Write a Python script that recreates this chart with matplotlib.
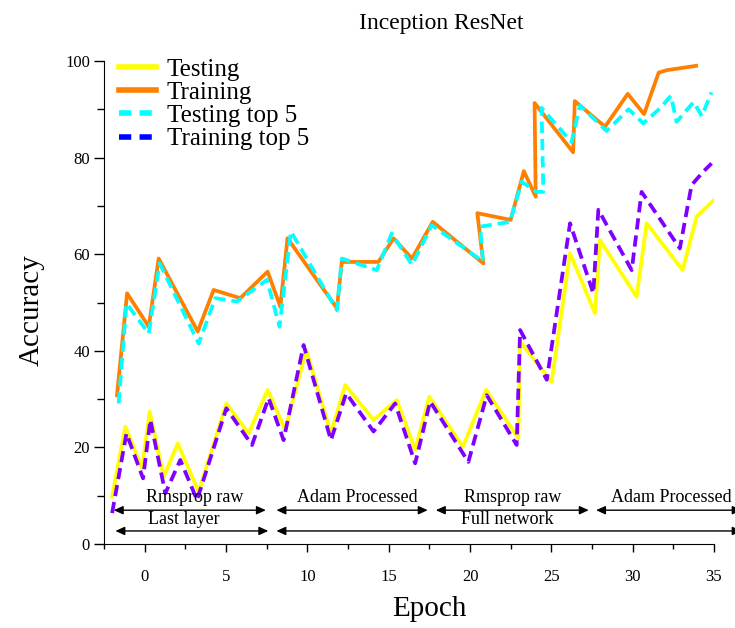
import matplotlib
matplotlib.use("Agg")
import matplotlib.pyplot as plt
from matplotlib.lines import Line2D

plt.rcParams['font.family'] = ['Liberation Serif', 'DejaVu Serif']

# Series (epoch, accuracy %)
train_x = [-1.70, -1.08, 0.25, 0.86, 3.26, 4.24, 5.88, 7.56, 8.34, 8.78, 11.82, 12.12,
           14.37, 15.30, 16.43, 17.71, 20.82, 20.45, 22.50, 23.31, 24.04, 23.97, 26.34,
           26.44, 28.30, 29.70, 30.70, 31.60, 32.10, 33.90]
train_y = [30.8, 51.9, 45.0, 59.1, 44.0, 52.6, 50.9, 56.4, 49.1, 63.3, 48.8, 58.4,
           58.4, 63.3, 59.1, 66.7, 58.1, 68.5, 67.1, 77.2, 71.9, 91.3, 81.1,
           91.7, 86.4, 93.2, 89.0, 97.6, 98.1, 99.0]

test5_x = [-1.60, -1.12, 0.25, 0.92, 3.32, 4.34, 5.67, 7.52, 8.29, 8.99, 11.82, 12.12,
           14.27, 15.19, 16.43, 17.65, 20.80, 20.62, 22.46, 23.18, 24.10, 24.51, 24.40,
           26.24, 26.76, 28.40, 29.75, 30.65, 31.68, 32.35, 32.70, 33.75, 34.25, 34.85]
test5_y = [29.1, 49.8, 43.6, 58.1, 41.5, 50.9, 50.2, 54.7, 45.0, 64.7, 48.4, 59.1,
           56.7, 64.3, 57.8, 66.0, 58.5, 65.7, 66.7, 75.0, 72.9, 72.9, 90.3,
           83.2, 90.8, 85.5, 90.0, 87.1, 90.2, 92.8, 87.4, 91.5, 88.6, 93.5]

test_x = [-2.00, -1.19, -0.16, 0.31, 1.17, 2.03, 3.32, 5.02, 6.39, 7.56, 8.64, 9.93,
          11.45, 12.33, 14.07, 15.50, 16.63, 17.50, 19.56, 20.99, 22.97, 23.08, 25.02,
          26.15, 27.68, 27.99, 30.24, 30.86, 33.07, 33.93, 35.12]
test_y = [9.8, 24.3, 15.7, 27.4, 13.9, 20.8, 10.8, 29.1, 22.9, 31.9, 23.6, 40.2,
          22.9, 32.9, 25.7, 29.8, 19.5, 30.5, 20.1, 31.9, 21.9, 41.9, 33.6,
          60.2, 47.8, 62.9, 51.2, 66.4, 56.7, 67.8, 71.6]

train5_x = [-2.00, -1.12, -0.10, 0.35, 1.27, 2.19, 3.22, 5.02, 6.60, 7.62, 8.54, 9.77,
            11.45, 12.39, 14.07, 15.40, 16.63, 17.55, 19.90, 21.03, 22.87, 23.08, 24.72,
            26.15, 27.58, 27.89, 29.94, 30.55, 32.90, 33.62, 34.34, 34.85]
train5_y = [6.4, 22.9, 13.6, 25.7, 10.5, 17.4, 9.1, 28.1, 20.5, 30.2, 21.5, 41.2,
            21.5, 31.2, 23.3, 29.1, 16.7, 29.5, 17.0, 30.8, 20.5, 44.3, 34.0,
            66.4, 51.9, 69.2, 56.7, 72.9, 61.2, 74.3, 77.1, 78.8]

# phase annotations: (start epoch, end epoch, label, label centre)
phase_rows = [
    (7.0, 9.7, [(-1.9, 7.45, "Rmsprop raw", 3.1),
                (8.1, 17.4, "Adam Processed", 13.1),
                (17.9, 27.3, "Rmsprop raw", 22.6),
                (27.75, 36.7, "Adam Processed", 32.4)]),
    (2.7, 5.0, [(-1.8, 7.6, "Last layer", 2.4),
                (8.1, 36.7, "Full network", 22.3)]),
]

fig = plt.figure(figsize=(7.35, 6.28), dpi=100)
ax = fig.add_axes([104/735, 1 - 544/628, 610/735, 483/628])

lw = 2.7
dash = (0, (3.0, 1.6))
ax.plot(test_x, test_y, color='#FFFF00', lw=lw)
ax.plot(train_x, train_y, color='#FF8000', lw=lw)
ax.plot(test5_x, test5_y, color='#00FFFF', lw=lw, linestyle=dash)
ax.plot(train5_x, train5_y, color='#8000FF', lw=lw, linestyle=dash)

for arrow_y, text_y, segs in phase_rows:
    for x0, x1, label, xc in segs:
        ax.annotate("", xy=(x1, arrow_y), xytext=(x0, arrow_y),
                    arrowprops=dict(arrowstyle='<|-|>,head_length=0.55,head_width=0.25',
                                    color='black', lw=1.0, shrinkA=0, shrinkB=0),
                    annotation_clip=False)
        ax.text(xc, text_y, label, ha='center', va='center', fontsize=13)

ax.set_xlim(-2.5, 35)
ax.set_ylim(0, 100)
ax.set_xticks(range(0, 36, 5))
ax.set_xticks([i * 2.5 for i in range(-1, 15)], minor=True)
ax.set_yticks(range(0, 101, 20))
ax.set_yticks(range(0, 101, 10), minor=True)
ax.spines['top'].set_visible(False)
ax.spines['right'].set_visible(False)
ax.tick_params(axis='x', which='major', length=6, width=1, pad=12, labelsize=12)
ax.tick_params(axis='x', which='minor', length=3.5, width=1)
ax.tick_params(axis='y', which='major', length=7, width=1, pad=3, labelsize=12)
ax.tick_params(axis='y', which='minor', length=5, width=1)

ax.set_xlabel("Epoch", fontsize=21)
ax.xaxis.set_label_coords(0.534, -0.108)
ax.set_ylabel("Accuracy", fontsize=21)
ax.yaxis.set_label_coords(-0.098, 0.484)
fig.text(441/735, 1 - 23/628, "Inception ResNet", ha='center', va='center', fontsize=17)

handles = [Line2D([], [], color='#FFFF00', lw=4),
           Line2D([], [], color='#FF8000', lw=4),
           Line2D([], [], color='#00FFFF', lw=4, linestyle=(0, (2.2, 1.5))),
           Line2D([], [], color='#0000FF', lw=4, linestyle=(0, (2.2, 1.5)))]
ax.legend(handles, ["Testing", "Training", "Testing top 5", "Training top 5"],
          loc='upper left', bbox_to_anchor=(0.025, 1.006), frameon=False,
          fontsize=18, borderpad=0, borderaxespad=0, labelspacing=0.03,
          handlelength=1.45, handletextpad=0.45)

fig.savefig("out.png", dpi=100)
